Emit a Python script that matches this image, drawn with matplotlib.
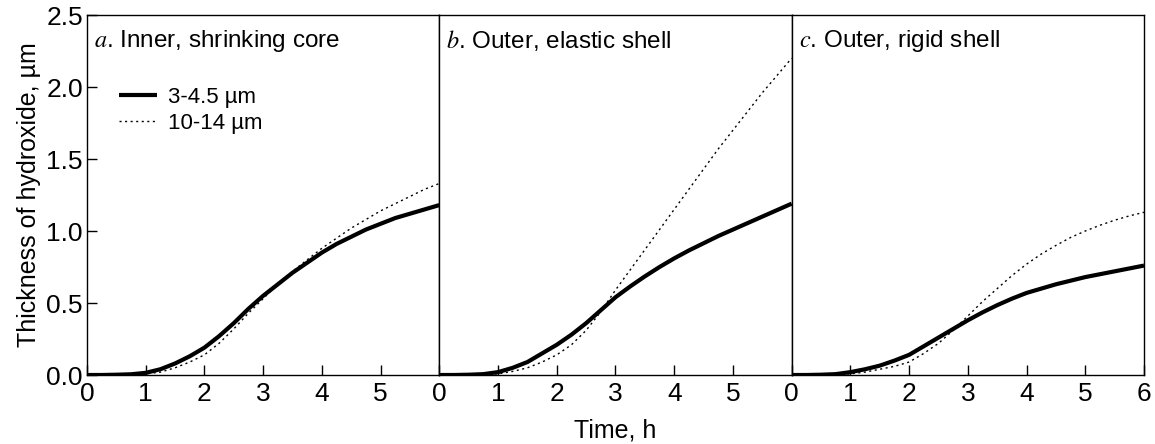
import matplotlib
matplotlib.use("Agg")
import matplotlib.pyplot as plt

plt.rcParams['font.family'] = ['Liberation Sans', 'DejaVu Sans']
plt.rcParams['mathtext.fontset'] = 'stix'

# time, h
time_h = [0, 0.25, 0.5, 0.75, 1, 1.25, 1.5, 1.75, 2, 2.25, 2.5, 2.75, 3,
          3.25, 3.5, 3.75, 4, 4.25, 4.5, 4.75, 5, 5.25, 5.5, 5.75, 6]

# a. inner, shrinking core
a_small = [0, 0, 0.002, 0.005, 0.015, 0.04, 0.08, 0.13, 0.19, 0.27, 0.36, 0.46, 0.55,
           0.63, 0.71, 0.78, 0.85, 0.91, 0.96, 1.01, 1.05, 1.09, 1.12, 1.15, 1.18]
a_large = [0, 0, 0, 0.002, 0.008, 0.02, 0.05, 0.09, 0.14, 0.22, 0.32, 0.43, 0.53,
           0.63, 0.72, 0.80, 0.88, 0.95, 1.02, 1.08, 1.14, 1.19, 1.24, 1.29, 1.33]
# b. outer, elastic shell
b_small = [0, 0, 0.002, 0.006, 0.02, 0.05, 0.09, 0.15, 0.21, 0.28, 0.36, 0.45, 0.54,
           0.615, 0.685, 0.75, 0.81, 0.865, 0.915, 0.965, 1.01, 1.055, 1.10, 1.145, 1.19]
b_large = [0, 0, 0, 0.002, 0.008, 0.025, 0.05, 0.09, 0.14, 0.21, 0.31, 0.44, 0.59,
           0.73, 0.87, 1.01, 1.15, 1.29, 1.43, 1.57, 1.70, 1.83, 1.96, 2.08, 2.20]
# c. outer, rigid shell
c_small = [0, 0, 0.002, 0.006, 0.02, 0.04, 0.065, 0.10, 0.14, 0.20, 0.26, 0.32, 0.38,
           0.435, 0.485, 0.53, 0.57, 0.60, 0.63, 0.655, 0.68, 0.70, 0.72, 0.74, 0.76]
c_large = [0, 0, 0, 0.002, 0.008, 0.02, 0.04, 0.06, 0.09, 0.15, 0.22, 0.31, 0.41,
           0.51, 0.60, 0.69, 0.77, 0.84, 0.90, 0.955, 1.00, 1.04, 1.075, 1.105, 1.13]

panel_titles = [r"$a$. Inner, shrinking core", r"$b$. Outer, elastic shell",
                r"$c$. Outer, rigid shell"]
small_series = [a_small, b_small, c_small]
large_series = [a_large, b_large, c_large]
y_ticks = [0.0, 0.5, 1.0, 1.5, 2.0, 2.5]

fig, axes = plt.subplots(1, 3, figsize=(11.55, 4.44), dpi=100, sharey=True)
fig.subplots_adjust(left=0.0753, right=0.9905, bottom=0.1554, top=0.9662, wspace=0)

for i, ax in enumerate(axes):
    ax.plot(time_h, small_series[i], color='black', lw=3, solid_capstyle='butt',
            solid_joinstyle='round', label='3-4.5 µm')
    ax.plot(time_h, large_series[i], color='black', lw=1, linestyle=(0, (1.5, 2.5)),
            label='10-14 µm')
    ax.set_xlim(0, 6)
    ax.set_ylim(0, 2.5)
    ax.set_xticks([0, 1, 2, 3, 4, 5, 6] if i == 2 else [0, 1, 2, 3, 4, 5])
    ax.tick_params(axis='x', direction='in', length=7, width=1, labelsize=19, pad=5)
    ax.tick_params(axis='y', direction='in', length=7, width=1, labelsize=19, pad=3)
    if i > 0:
        ax.tick_params(axis='y', left=False)
    for sp in ax.spines.values():
        sp.set_linewidth(1)
    ax.text(0.02, 0.965, panel_titles[i], transform=ax.transAxes, fontsize=17.5,
            va='top', ha='left')

axes[0].set_yticks(y_ticks)
axes[0].set_yticklabels([f"{v:.1f}" for v in y_ticks])
axes[0].set_ylabel('Thickness of hydroxide, µm', fontsize=18, labelpad=4)
axes[0].legend(loc='upper left', bbox_to_anchor=(0.035, 0.855), frameon=False,
               fontsize=16, handlelength=1.7, handletextpad=0.5, labelspacing=0.2)
fig.text(0.533, 0.03, 'Time, h', fontsize=18, ha='center', va='center')

fig.savefig('out.png', dpi=100)
